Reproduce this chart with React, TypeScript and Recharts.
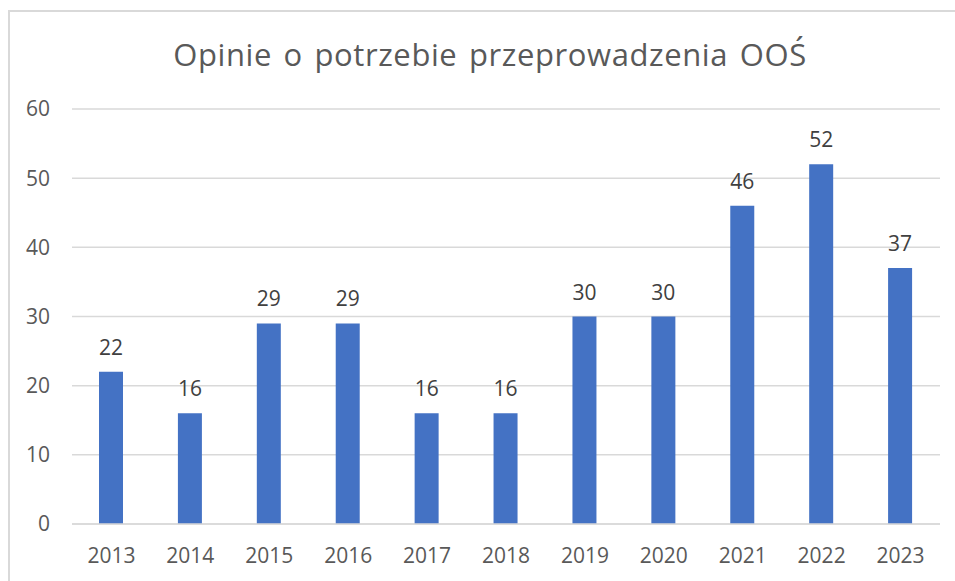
import { BarChart, Bar, XAxis, YAxis, CartesianGrid, LabelList } from 'recharts';

const years = ['2013', '2014', '2015', '2016', '2017', '2018', '2019', '2020', '2021', '2022', '2023'];
const opinions = [22, 16, 29, 29, 16, 16, 30, 30, 46, 52, 37];
const yTicks = [0, 10, 20, 30, 40, 50, 60];

const chartData = years.map((year, i) => ({ year, value: opinions[i] }));

const FONT = '"Open Sans", sans-serif';

export default function App() {
    return (
        <div style={{ position: 'fixed', left: 0, top: 0, width: 955, height: 581, overflow: 'hidden', background: '#fff' }}>
            {/* chart frame, only left and top edges are visible in the crop */}
            <div
                style={{
                    position: 'absolute',
                    left: 8,
                    top: 10,
                    width: 960,
                    height: 600,
                    borderLeft: '2px solid #d9d9d9',
                    borderTop: '2px solid #d9d9d9',
                }}
            />
            <div
                style={{
                    position: 'absolute',
                    left: 0,
                    top: 33,
                    width: 980,
                    textAlign: 'center',
                    fontFamily: FONT,
                    fontSize: 31,
                    letterSpacing: 0.6,
                    wordSpacing: 3,
                    color: '#595959',
                    lineHeight: '42px',
                }}
            >
                Opinie o potrzebie przeprowadzenia OOŚ
            </div>
            <div style={{ position: 'absolute', left: 0, top: 0 }}>
                <BarChart
                    width={955}
                    height={581}
                    data={chartData}
                    margin={{ top: 109, right: 15, left: 20, bottom: 17 }}
                    barSize={24}
                >
                    <CartesianGrid vertical={false} stroke="#d9d9d9" strokeWidth={1.5} />
                    <XAxis
                        dataKey="year"
                        height={40}
                        tickLine={false}
                        axisLine={{ stroke: '#d9d9d9', strokeWidth: 1.5 }}
                        tickSize={0}
                        tickMargin={24}
                        tick={{ fontSize: 21, fill: '#595959', fontFamily: FONT }}
                    />
                    <YAxis
                        width={52}
                        domain={[0, 60]}
                        ticks={yTicks}
                        tickLine={false}
                        axisLine={false}
                        tickSize={0}
                        tickMargin={22}
                        tick={{ fontSize: 21, fill: '#595959', fontFamily: FONT }}
                    />
                    <Bar dataKey="value" fill="#4472C4" isAnimationActive={false}>
                        <LabelList
                            dataKey="value"
                            position="top"
                            offset={17}
                            style={{ fontSize: 21, fill: '#404040', fontFamily: FONT }}
                        />
                    </Bar>
                </BarChart>
            </div>
        </div>
    );
}
